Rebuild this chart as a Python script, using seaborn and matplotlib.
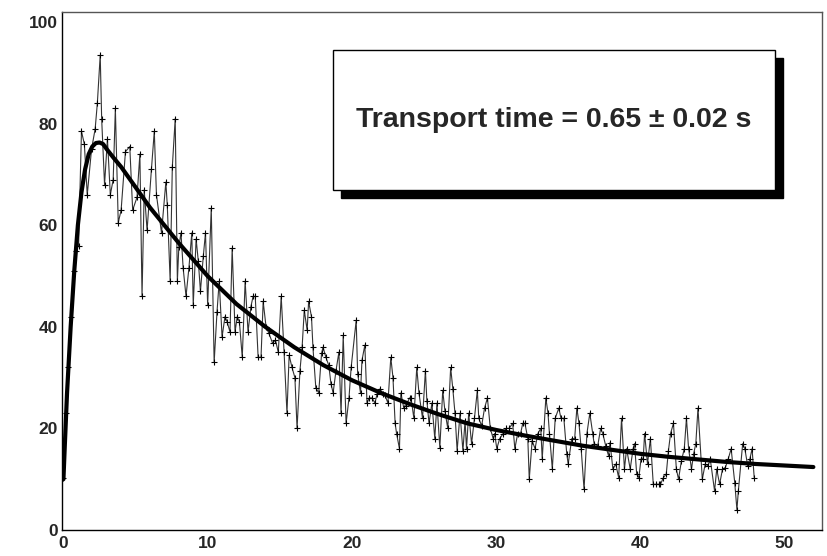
import matplotlib
matplotlib.use("Agg")
import matplotlib.pyplot as plt
import seaborn as sns
import pandas as pd
from matplotlib.patches import Rectangle
from matplotlib.ticker import MultipleLocator

# ---- data ----
data_x = [0.0, 0.15, 0.35, 0.55, 0.7, 0.85, 1.05, 1.25, 1.45, 1.65, 1.95, 2.2, 2.35, 2.55, 2.65,
          2.85, 3.05, 3.25, 3.45, 3.6, 3.8, 4.0, 4.3, 4.6, 4.8, 5.1, 5.3, 5.45, 5.6, 5.8,
          6.1, 6.3, 6.45, 6.8, 7.1, 7.2, 7.4, 7.55, 7.75, 7.9, 8.0, 8.15, 8.3, 8.5, 8.7,
          8.9, 9.0, 9.2, 9.35, 9.5, 9.7, 9.85, 10.0, 10.25, 10.45, 10.65, 10.8, 11.0, 11.2, 11.35,
          11.55, 11.7, 11.9, 12.05, 12.2, 12.4, 12.6, 12.8, 13.0, 13.15, 13.3, 13.5, 13.7, 13.85, 14.05,
          14.25, 14.5, 14.7, 14.9, 15.1, 15.3, 15.5, 15.65, 15.85, 16.05, 16.2, 16.4, 16.55, 16.7, 16.9,
          17.0, 17.2, 17.3, 17.5, 17.7, 17.9, 18.0, 18.2, 18.4, 18.55, 18.7, 18.9, 19.1, 19.25, 19.4,
          19.6, 19.8, 19.95, 20.3, 20.4, 20.6, 20.7, 20.9, 21.05, 21.2, 21.4, 21.6, 21.75, 21.95, 22.15,
          22.3, 22.5, 22.7, 22.85, 23.0, 23.1, 23.3, 23.4, 23.6, 23.75, 24.0, 24.1, 24.3, 24.5, 24.65,
          24.9, 25.1, 25.2, 25.35, 25.55, 25.75, 25.9, 26.1, 26.3, 26.45, 26.65, 26.85, 27.0, 27.15, 27.3,
          27.5, 27.7, 27.85, 27.95, 28.1, 28.3, 28.5, 28.7, 28.8, 29.0, 29.2, 29.4, 29.6, 29.8, 29.9,
          30.05, 30.25, 30.5, 30.7, 30.9, 31.15, 31.3, 31.5, 31.7, 31.85, 32.0, 32.2, 32.3, 32.5, 32.7,
          32.9, 33.1, 33.2, 33.45, 33.6, 33.7, 33.9, 34.1, 34.35, 34.5, 34.7, 34.9, 35.0, 35.25, 35.45,
          35.6, 35.75, 35.9, 36.1, 36.3, 36.5, 36.7, 36.8, 37.05, 37.25, 37.4, 37.6, 37.8, 37.9, 38.1,
          38.3, 38.5, 38.7, 38.9, 39.05, 39.3, 39.5, 39.6, 39.75, 39.9, 40.05, 40.2, 40.3, 40.5, 40.7,
          40.9, 41.1, 41.3, 41.4, 41.6, 41.8, 41.95, 42.1, 42.3, 42.5, 42.65, 42.85, 43.05, 43.2, 43.35,
          43.55, 43.7, 43.85, 44.0, 44.3, 44.5, 44.7, 44.85, 45.15, 45.3, 45.5, 45.7, 45.9, 46.1, 46.3,
          46.55, 46.7, 46.8, 47.1, 47.25, 47.45, 47.6, 47.75, 47.9]
data_y = [10.3, 23, 32, 42, 51, 55, 56, 78.5, 76, 66, 75, 79, 84, 93.5, 81,
          68, 77, 66, 69, 83, 60.5, 63, 74.5, 75.5, 63, 65.5, 74, 46, 67, 59,
          71, 78.5, 66, 58.5, 68.5, 64, 49, 71.5, 81, 49, 55.7, 58.5, 51.6, 46, 51.6,
          58.5, 44.3, 57.3, 53, 47, 54, 58.5, 44.3, 63.4, 33, 43, 49, 38, 42, 41,
          39, 55.5, 39, 42, 41, 34, 49, 39, 44, 46, 46, 34, 34, 45, 40,
          38.7, 36.8, 37.4, 35, 46, 35, 23, 34.4, 32, 30, 20, 31.4, 36, 43.3, 39.3,
          45, 42, 36, 28, 27, 34.8, 36, 34, 32.4, 28.8, 27, 31.4, 35, 23, 38.3,
          21, 26, 32, 41.3, 30.8, 27, 33.4, 36.4, 25, 26, 26, 25, 26.8, 27.8, 26.8,
          26.5, 25, 34, 30, 21, 19, 16, 27, 24, 24.5, 26, 26, 22, 32, 27,
          22, 31.4, 25.5, 21, 25, 18, 25, 16.2, 27.5, 23.5, 20, 32, 27.8, 23, 15.6,
          23, 15.6, 21.5, 16, 23, 17, 22, 27.5, 22, 20.5, 24, 26, 20, 18, 19,
          16, 18, 19, 20, 20, 21, 16, 19, 19, 21, 21, 18, 10, 17.6, 16,
          19, 20, 14, 26, 23, 19, 12, 22, 24, 22, 22, 15, 13, 18, 18,
          24, 21, 16, 8, 19, 23, 19, 17, 16.6, 20, 19, 16.6, 14.6, 17.2, 12,
          13, 10.3, 22, 12, 16, 12, 16, 17, 11, 10.3, 14, 14, 19, 13, 18,
          9, 9, 9, 9, 10.3, 11, 15.6, 19, 21, 12, 10, 13.6, 16, 22, 16,
          12, 15, 17, 24, 10, 13, 12.6, 14, 7.7, 12, 9, 12, 12.3, 14, 16,
          9.3, 4, 7.7, 17, 16, 12.6, 14, 16, 10.3]

fit_x = [0, 0.1, 0.25, 0.5, 0.75, 1.0, 1.25, 1.5, 1.75, 2.0, 2.25, 2.5, 2.75, 3.0, 3.5, 4, 5, 6, 7, 8,
         10, 12, 14, 16, 18, 20, 22, 24, 26, 28, 30, 32, 34, 36, 38, 40, 42, 44, 46, 48, 50, 52]
fit_y = [10, 17, 27, 40, 51, 60, 66.5, 71, 74, 75.5, 76.2, 76.3, 76, 75, 73.2, 71.5, 67.5, 63.5, 60, 56.5,
         50, 44.5, 40, 36, 32.5, 29.5, 27, 24.8, 22.8, 21, 19.7, 18.6, 17.6, 16.6, 15.8, 15.0, 14.4, 13.9,
         13.4, 13.0, 12.7, 12.4]

x_ticks = [0, 10, 20, 30, 40, 50]
y_ticks = [0, 20, 40, 60, 80, 100]
label_text = "Transport time = 0.65 \u00b1 0.02 s"

# ---- figure ----
sns.set_style("white")
plt.rcParams['font.family'] = ['Liberation Sans', 'DejaVu Sans']
plt.rcParams['font.weight'] = 'bold'

fig = plt.figure(figsize=(8.27, 5.56), dpi=100)
ax = fig.add_axes([62/827, 26/556, 760/827, 518/556])

df_data = pd.DataFrame({"x": data_x, "y": data_y})
df_fit = pd.DataFrame({"x": fit_x, "y": fit_y})

sns.lineplot(data=df_data, x="x", y="y", ax=ax, sort=False, estimator=None,
             color="#333333", linewidth=0.8, marker="+", markersize=4,
             markeredgewidth=0.8, markeredgecolor="black")
sns.lineplot(data=df_fit, x="x", y="y", ax=ax, sort=False, estimator=None,
             color="black", linewidth=3.0)

ax.set_xlim(-0.1, 52.6)
ax.set_ylim(0, 102)
ax.set_xticks(x_ticks)
ax.set_yticks(y_ticks)
ax.set_xticklabels([str(v) for v in x_ticks], fontsize=12.5, fontweight='bold')
ax.set_yticklabels([str(v) for v in y_ticks], fontsize=12.5, fontweight='bold')
ax.xaxis.set_minor_locator(MultipleLocator(2))
ax.yaxis.set_minor_locator(MultipleLocator(5))
ax.tick_params(axis='both', which='major', direction='in', length=16, width=1, color='black')
ax.tick_params(axis='both', which='minor', direction='in', length=8, width=1, color='black')
ax.tick_params(axis='x', which='both', top=False, pad=4)
ax.tick_params(axis='y', which='both', right=False, pad=3)
ax.set_xlabel("")
ax.set_ylabel("")
for name, s in ax.spines.items():
    s.set_color("black" if name in ("left", "bottom") else "#555555")
    s.set_linewidth(1.0)

# stats box with shadow
bx0, by0, bw, bh = 0.357, 0.656, 0.581, 0.271
ax.add_patch(Rectangle((bx0 + 0.0105, by0 - 0.0155), bw, bh, transform=ax.transAxes,
                       facecolor="black", edgecolor="black", zorder=5, clip_on=False))
ax.add_patch(Rectangle((bx0, by0), bw, bh, transform=ax.transAxes,
                       facecolor="white", edgecolor="black", linewidth=1.0, zorder=6, clip_on=False))
ax.text(bx0 + bw / 2, by0 + bh / 2, label_text, transform=ax.transAxes,
        ha="center", va="center", fontsize=20.5, fontweight="bold", zorder=7)

fig.savefig("out.png", dpi=100)
